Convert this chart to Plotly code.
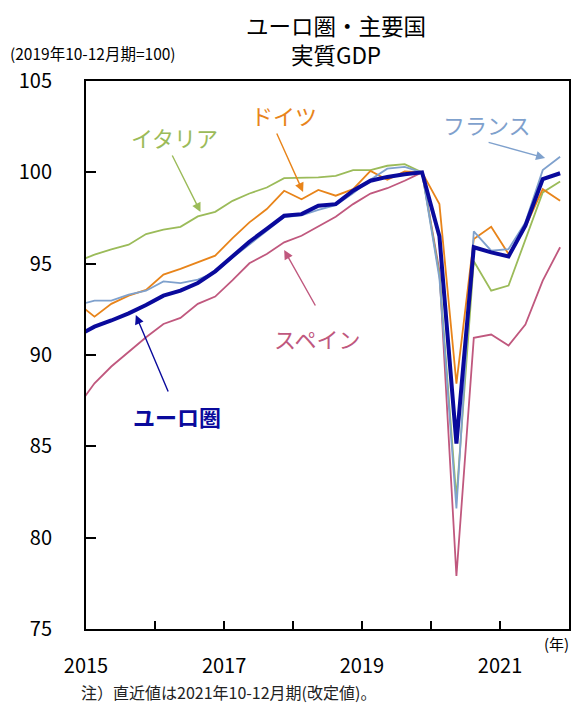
import pandas as pd
import plotly.graph_objects as go

# Quarterly categories (2014Q4 is partly clipped by the axis start)
quarters = [f"{y}Q{q}" for y in range(2015, 2022) for q in range(1, 5)]
quarters = ["2014Q4"] + quarters

euro = [91.05, 91.55, 91.89, 92.28, 92.74, 93.25, 93.52, 93.94, 94.58,
        95.40, 96.20, 96.90, 97.62, 97.71, 98.17, 98.26, 98.99,
        99.54, 99.75, 99.90, 100.0, 96.50, 85.15, 95.90, 95.62,
        95.40, 97.08, 99.63, 99.95]
germany = [92.85, 92.10, 92.80, 93.25, 93.56, 94.40, 94.71, 95.07, 95.44,
           96.40, 97.26, 97.99, 98.99, 98.53, 99.04, 98.72, 99.08,
           100.08, 99.59, 100.05, 100.0, 98.26, 88.43, 96.35, 97.02,
           95.53, 97.00, 99.08, 98.44]
italy = [95.13, 95.49, 95.78, 96.04, 96.62, 96.86, 97.02, 97.59, 97.84,
         98.44, 98.84, 99.17, 99.68, 99.68, 99.72, 99.81, 100.12,
         100.12, 100.36, 100.45, 100.0, 94.40, 82.14, 95.13, 93.52,
         93.80, 96.35, 98.90, 99.50]
france = [92.72, 92.98, 92.98, 93.31, 93.52, 94.03, 93.94, 94.13, 94.53,
          95.34, 96.05, 96.80, 97.55, 97.65, 97.95, 98.20, 98.85,
          99.60, 100.20, 100.30, 100.0, 94.20, 81.60, 96.77, 95.71,
          95.80, 97.26, 100.12, 100.85]
spain = [87.15, 88.45, 89.37, 90.16, 90.97, 91.70, 92.03, 92.80, 93.20,
         94.10, 95.02, 95.53, 96.17, 96.53, 97.02, 97.57, 98.26,
         98.84, 99.13, 99.54, 100.0, 94.60, 77.90, 90.94, 91.12,
         90.52, 91.67, 94.07, 95.90]

year_ticks = list(range(2015, 2023))
year_text = ["2015", "", "2017", "", "2019", "", "2021", ""]
y_ticks = [75, 80, 85, 90, 95, 100, 105]

# mid-quarter dates for positioning
x = [pd.Period(q, freq="Q").start_time + pd.DateOffset(months=1, days=14) for q in quarters]

C_EURO = "#0A0A9C"
C_DE = "#E8841A"
C_IT = "#9BBB59"
C_FR = "#7FA1CD"
C_ES = "#C0587E"
FONT = "Noto Sans CJK JP"

fig = go.Figure()
for name, vals, col, w in [("スペイン", spain, C_ES, 1.8), ("イタリア", italy, C_IT, 1.8),
                           ("ドイツ", germany, C_DE, 1.8), ("フランス", france, C_FR, 1.8),
                           ("ユーロ圏", euro, C_EURO, 4)]:
    fig.add_trace(go.Scatter(x=x, y=vals, mode="lines", name=name,
                             line=dict(color=col, width=w), showlegend=False))

# target page pixel geometry (page body has an 8px default margin)
OFF = 8
PW, PH = 581, 707
L, R, T, B = 86, 571, 81, 629
W, H = PW - OFF, PH - OFF

def px(xp, yp):
    return (xp - L) / (R - L), (B - yp) / (B - T)

ann = []
def text(t, xp, yp, size, color, bold=False, xanchor="center", yanchor="middle"):
    xx, yy = px(xp, yp)
    ann.append(dict(text=f"<b>{t}</b>" if bold else t, x=xx, y=yy, xref="paper", yref="paper",
                    showarrow=False, xanchor=xanchor, yanchor=yanchor, borderpad=0,
                    font=dict(family=FONT, size=size, color=color)))

def arrow(tail, head, color):
    hx, hy = px(*head)
    ann.append(dict(text="", x=hx, y=hy, xref="paper", yref="paper", showarrow=True,
                    ax=tail[0] - head[0], ay=tail[1] - head[1], axref="pixel", ayref="pixel",
                    arrowhead=2, arrowsize=1.3, arrowwidth=1.4, arrowcolor=color))

text("ユーロ圏・主要国<br>実質GDP", 337, 8.5, 22.5, "black", yanchor="top")
text("(2019年10-12月期=100)", 9, 53, 15.5, "black", xanchor="left")
text("(年)", 558, 643, 15, "black")
text("注）直近値は2021年10-12月期(改定値)。", 80, 692, 16, "#222222", xanchor="left")

text("イタリア", 175, 137, 22, C_IT)
arrow((172, 154), (201, 212), C_IT)
text("ドイツ", 285, 115, 22, C_DE)
arrow((277, 132), (304, 192), C_DE)
text("スペイン", 318, 338, 22, C_ES)
arrow((317, 307), (285, 250), C_ES)
text("フランス", 489, 124, 22, C_FR)
arrow((489, 142), (547, 158), C_FR)
text("ユーロ圏", 177, 416, 22, C_EURO, bold=True)
arrow((169, 393), (136, 315), C_EURO)

fig.update_layout(
    width=W, height=H, margin=dict(l=L - OFF, r=PW - R, t=T - OFF, b=PH - B),
    paper_bgcolor="white", plot_bgcolor="white",
    annotations=ann,
    font=dict(family=FONT, color="black"),
    xaxis=dict(type="date", range=["2015-01-01", "2022-01-01"],
               tickvals=[f"{y}-01-01" for y in year_ticks], ticktext=year_text,
               ticks="inside", ticklen=8, tickwidth=1.5, tickcolor="black",
               showline=True, linecolor="black", linewidth=2, mirror=True,
               showgrid=False, zeroline=False, ticklabelstandoff=18,
               tickfont=dict(size=20, family=FONT, color="black")),
    yaxis=dict(range=[75, 105], tickvals=y_ticks,
               ticks="inside", ticklen=10, tickwidth=1.5, tickcolor="black",
               showline=True, linecolor="black", linewidth=2, mirror=True,
               showgrid=False, zeroline=False, ticklabelstandoff=28,
               tickfont=dict(size=20, family=FONT, color="black")),
)

fig.write_html("out.html")
